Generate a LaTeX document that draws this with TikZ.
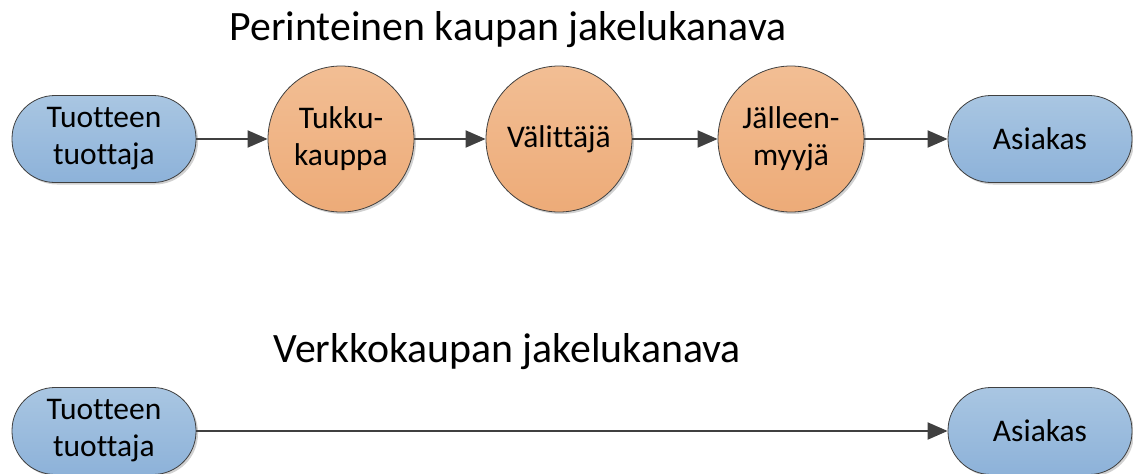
\documentclass[tikz,border=0pt]{standalone}
\usepackage{fontspec}
\setmainfont{Carlito}[Ligatures={NoCommon}]
\usetikzlibrary{arrows.meta,shadows}
\definecolor{bluetop}{HTML}{A9C6E2}
\definecolor{bluebot}{HTML}{8DB2D9}
\definecolor{orgtop}{HTML}{F2BE94}
\definecolor{orgbot}{HTML}{EDAB78}
\definecolor{edge}{HTML}{404040}
\tikzset{
  x=1pt, y=-1pt,
  shad/.style={drop shadow={shadow xshift=2pt,shadow yshift=-2pt,fill=black,opacity=0.18}},
  endpt/.style={rectangle, rounded corners=43pt, minimum width=184pt, minimum height=87pt,
    draw=edge, line width=0.8pt, top color=bluetop, bottom color=bluebot, shad,
    align=center, font=\fontsize{31.5}{37}\selectfont, inner sep=0pt},
  midpt/.style={circle, minimum size=146pt, draw=edge, line width=0.8pt,
    top color=orgtop, bottom color=orgbot, shad,
    align=center, font=\fontsize{31.5}{37}\selectfont, inner sep=0pt},
  flow/.style={draw=edge, line width=2pt, -{Triangle[length=20pt,width=17pt]}},
  ttl/.style={font=\fontsize{41.8}{50}\selectfont, anchor=base, inner sep=0pt}
}
\begin{document}
\begin{tikzpicture}
\useasboundingbox (0,0) rectangle (1133,474);
\node[ttl] (t1) at (508,40) {Perinteinen kaupan jakelukanava};
\node[ttl] (t2) at (507,362) {Verkkokaupan jakelukanava};
\node[endpt] (p1) at (104,139) {Tuotteen\\tuottaja};
\node[midpt] (m1) at (341,139) {Tukku-\\kauppa};
\node[midpt] (m2) at (559,139) {Välittäjä};
\node[midpt] (m3) at (791,139) {Jälleen-\\myyjä};
\node[endpt] (a1) at (1040,139) {Asiakas};
\node[endpt] (p2) at (104,431) {Tuotteen\\tuottaja};
\node[endpt] (a2) at (1040,431) {Asiakas};
\draw[flow] (p1) -- (m1);
\draw[flow] (m1) -- (m2);
\draw[flow] (m2) -- (m3);
\draw[flow] (m3) -- (a1);
\draw[flow] (p2) -- (a2);
\end{tikzpicture}
\end{document}
